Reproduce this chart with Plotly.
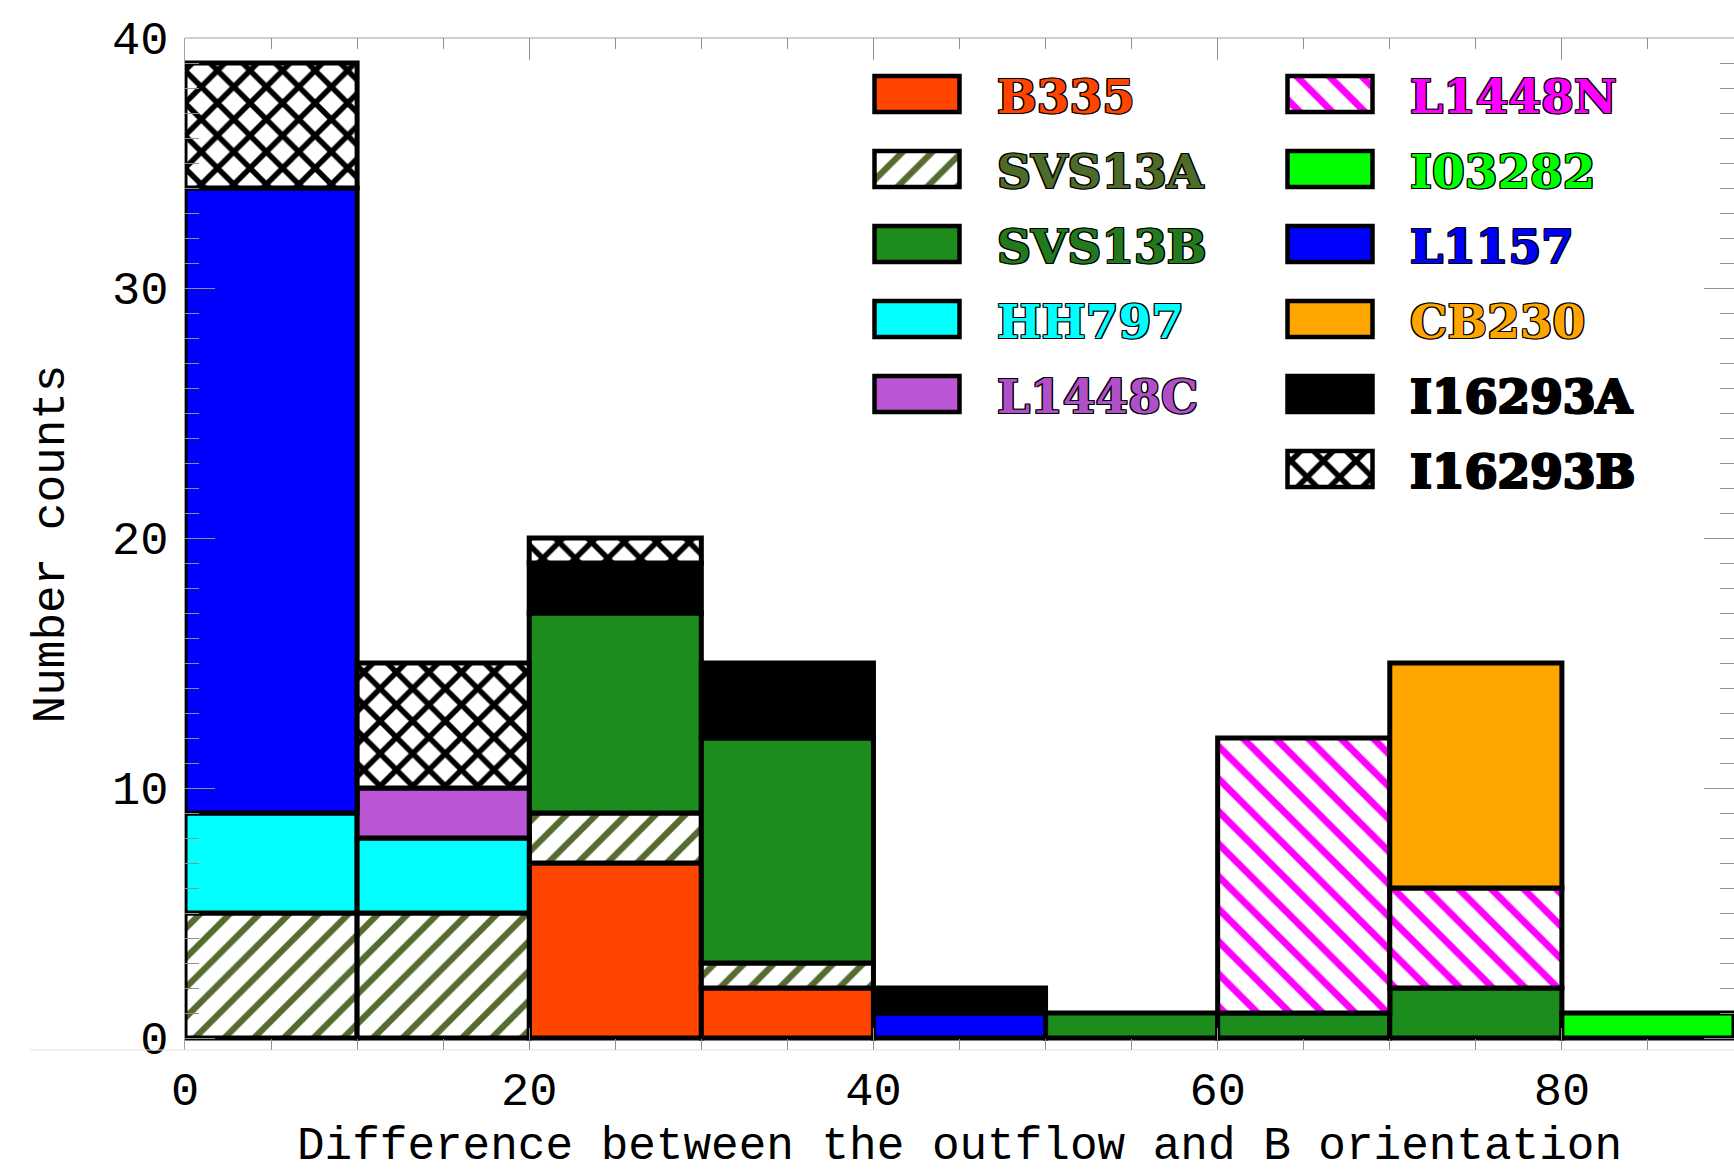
import numpy as np
import plotly.graph_objects as go

# ---------------- data ----------------
bin_left = [0, 10, 20, 30, 40, 50, 60, 70, 80]
bin_width = 10
x_tick_vals = [0, 20, 40, 60, 80]
y_tick_vals = [0, 10, 20, 30, 40]

sources = ["B335", "SVS13A", "SVS13B", "HH797", "L1448C", "L1448N",
           "I03282", "L1157", "CB230", "I16293A", "I16293B"]

B335    = [0, 0, 7, 2, 0, 0, 0, 0, 0]
SVS13A  = [5, 5, 2, 1, 0, 0, 0, 0, 0]
SVS13B  = [0, 0, 8, 9, 0, 1, 1, 2, 0]
HH797   = [4, 3, 0, 0, 0, 0, 0, 0, 0]
L1448C  = [0, 2, 0, 0, 0, 0, 0, 0, 0]
L1448N  = [0, 0, 0, 0, 0, 0, 11, 4, 0]
I03282  = [0, 0, 0, 0, 0, 0, 0, 0, 1]
L1157   = [25, 0, 0, 0, 1, 0, 0, 0, 0]
CB230   = [0, 0, 0, 0, 0, 0, 0, 9, 0]
I16293A = [0, 0, 2, 3, 1, 0, 0, 0, 0]
I16293B = [5, 5, 1, 0, 0, 0, 0, 0, 0]

counts = [B335, SVS13A, SVS13B, HH797, L1448C, L1448N,
          I03282, L1157, CB230, I16293A, I16293B]

x_title = "Difference between the outflow and B orientation"
y_title = "Number counts"

# ---------------- styles ----------------
styles = {
    "B335":    dict(color="#FF4500", shape=""),
    "SVS13A":  dict(color="#556B2F", shape="/"),
    "SVS13B":  dict(color="#1C8C1C", shape=""),
    "HH797":   dict(color="#00FFFF", shape=""),
    "L1448C":  dict(color="#BA55D3", shape=""),
    "L1448N":  dict(color="#FF00FF", shape="\\"),
    "I03282":  dict(color="#00FF00", shape=""),
    "L1157":   dict(color="#0000FF", shape=""),
    "CB230":   dict(color="#FFA500", shape=""),
    "I16293A": dict(color="#000000", shape=""),
    "I16293B": dict(color="#000000", shape="x"),
}
text_colors = {
    "B335": "#FF4500", "SVS13A": "#4F6B2A", "SVS13B": "#237A1E",
    "HH797": "#00FFFF", "L1448C": "#B050C8", "L1448N": "#FF00FF",
    "I03282": "#00FF00", "L1157": "#0000FF", "CB230": "#FFA500",
    "I16293A": "#000000", "I16293B": "#000000",
}


def marker_for(name, line_w):
    st = styles[name]
    if st["shape"]:
        size = 23 if st["shape"] != "/" else 21
        sol = 0.42 if st["shape"] == "x" else 0.3
        return dict(color="white",
                    pattern=dict(shape=st["shape"], fgcolor=st["color"],
                                 bgcolor="white", size=size, solidity=sol,
                                 fillmode="replace"),
                    line=dict(color="black", width=line_w))
    return dict(color=st["color"], line=dict(color="black", width=line_w))


W, H = 1734, 1173
ML, MR, MT, MB = 185, 0, 38, 123

fig = go.Figure()

centers = np.array(bin_left) + bin_width / 2
cum = np.zeros(len(bin_left))
for name, vals in zip(sources, counts):
    v = np.array(vals, dtype=float)
    ys = [val if val > 0 else None for val in v]
    bs = [b if val > 0 else None for b, val in zip(cum, v)]
    fig.add_trace(go.Bar(
        x=centers, y=ys, base=bs, width=bin_width, name=name,
        marker=marker_for(name, 5), showlegend=False,
        xaxis="x", yaxis="y", hoverinfo="skip"))
    cum = cum + v

# ---------------- custom legend (pixel space overlay axes) ----------------
left_col = sources[:5]
right_col = sources[5:]
row0, row_step = 94, 75
sw_w, sw_h = 85, 36
col_sw_x = [917, 1330]
col_txt_x = [995, 1408]
annotations = []
for ci, col in enumerate([left_col, right_col]):
    for ri, name in enumerate(col):
        yc = row0 + ri * row_step
        fig.add_trace(go.Bar(
            x=[col_sw_x[ci]], y=[sw_h], base=[yc - sw_h / 2], width=sw_w,
            marker=marker_for(name, 4.5), showlegend=False,
            xaxis="x2", yaxis="y2", hoverinfo="skip"))
        annotations.append(dict(
            x=col_txt_x[ci], y=yc + 2, xref="x2", yref="y2", text=name,
            showarrow=False, xanchor="left", yanchor="middle",
            font=dict(family="DejaVu Serif", size=47, weight="bold",
                      color=text_colors[name],
                      shadow="1.2px 1.2px 0 #000, -1.2px -1.2px 0 #000, "
                             "1.2px -1.2px 0 #000, -1.2px 1.2px 0 #000")))

tick_font = dict(family="Liberation Mono", size=47, color="black")
title_font = dict(family="Liberation Mono", size=46, color="black")

fig.update_layout(
    width=W, height=H,
    margin=dict(l=ML, r=MR, t=MT, b=MB, autoexpand=False),
    paper_bgcolor="white", plot_bgcolor="white",
    barmode="overlay",
    annotations=annotations,
    xaxis=dict(
        range=[0, 90], tickvals=x_tick_vals, ticks="inside", ticklen=22,
        tickcolor="#909090", tickwidth=1.2, mirror="ticks", showline=False,
        showgrid=False, zeroline=False, tickfont=tick_font,
        ticklabelstandoff=7,
        minor=dict(dtick=5, ticks="inside", ticklen=11, tickcolor="#909090",
                   tickwidth=1.2, showgrid=False),
        title=dict(text=x_title, font=title_font, standoff=16),
    ),
    yaxis=dict(
        range=[-0.48, 40], tickvals=y_tick_vals, ticks="inside", ticklen=30,
        tickcolor="#909090", tickwidth=1.2, mirror="ticks", showline=True,
        linecolor="#a0a0a0", linewidth=1.2,
        showgrid=False, zeroline=False, tickfont=tick_font,
        ticklabelstandoff=6,
        minor=dict(dtick=1, ticks="inside", ticklen=14, tickcolor="#909090",
                   tickwidth=1.2, showgrid=False),
        title=dict(text=y_title, font=title_font, standoff=32),
    ),
    xaxis2=dict(overlaying="x", domain=[0, 1], range=[ML, W - MR],
                visible=False, fixedrange=True),
    yaxis2=dict(overlaying="y", domain=[0, 1], range=[H - MB, MT],
                visible=False, fixedrange=True),
    shapes=[
        dict(type="line", xref="paper", yref="paper", x0=0, x1=1, y0=1, y1=1,
             line=dict(color="#a0a0a0", width=1.2)),
        dict(type="line", xref="paper", yref="paper", x0=-0.1, x1=1, y0=0,
             y1=0, line=dict(color="#e4e4e4", width=1.2)),
    ],
)

fig.write_html(
    "out.html",
    config={"displayModeBar": False},
    post_script="document.body.style.margin='0';"
                "document.body.style.overflow='hidden';",
)
